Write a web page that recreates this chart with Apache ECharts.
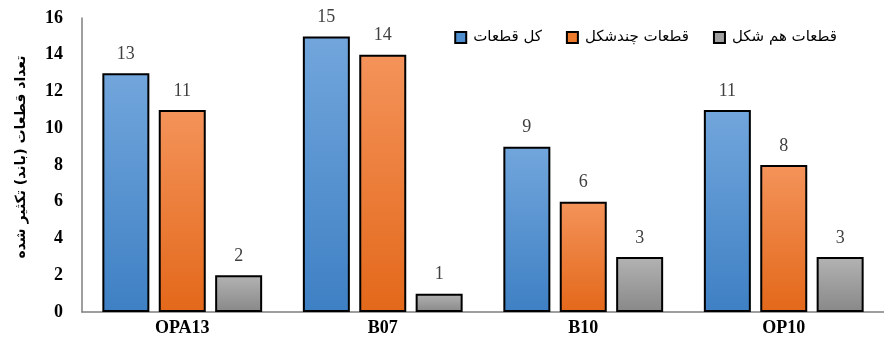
<!DOCTYPE html>
<html><head><meta charset="utf-8">
<script src="https://cdn.jsdelivr.net/npm/echarts@6/dist/echarts.min.js"></script>
<style>html,body{margin:0;padding:0;background:#fff}#c{width:884px;height:351px}</style>
</head><body><div id="c"></div>
<script>
const categories = ['OPA13', 'B07', 'B10', 'OP10'];
const totalBands = [13, 15, 9, 11];
const polyBands = [11, 14, 6, 8];
const monoBands = [2, 1, 3, 3];
const seriesNames = ['کل قطعات', 'قطعات چندشکل', 'قطعات هم شکل'];
const yAxisTitle = 'تعداد قطعات (باند) تکثیر شده';

function grad(a, b) {
  return new echarts.graphic.LinearGradient(0, 0, 0, 1, [{offset: 0, color: a}, {offset: 1, color: b}]);
}
const fills = [grad('#72a6dc', '#3e80c4'), grad('#f4935a', '#e3681a'), grad('#b3b3b3', '#888888')];
const legendColors = ['#4f8fd0', '#ee7a2c', '#a0a0a0'];
const dataSets = [totalBands, polyBands, monoBands];

const chart = echarts.init(document.getElementById('c'));
chart.setOption({
  animation: false,
  grid: {left: 82, right: -9, top: 18, bottom: 39, containLabel: false},
  legend: {
    top: 25, right: 42,
    itemWidth: 11, itemHeight: 11, itemGap: 24,
    textStyle: {fontFamily: 'DejaVu Sans', fontSize: 15, color: '#000', padding: [0, 0, 0, 2]},
    data: seriesNames.map((n, i) => ({name: n, icon: 'rect', itemStyle: {color: legendColors[i], borderColor: '#000', borderWidth: 2}}))
  },
  xAxis: {
    type: 'category', data: categories,
    axisLine: {lineStyle: {color: '#7f7f7f', width: 1.5}},
    axisTick: {show: false},
    axisLabel: {fontFamily: 'Liberation Serif', fontWeight: 'bold', fontSize: 18, color: '#000', margin: 7}
  },
  yAxis: {
    type: 'value', min: 0, max: 16, interval: 2,
    name: yAxisTitle, nameLocation: 'middle', nameGap: 54, nameRotate: 90,
    nameTextStyle: {fontFamily: 'DejaVu Sans', fontWeight: 'bold', fontSize: 14, color: '#000', padding: [0, 0, 0, 16]},
    axisLine: {show: true, lineStyle: {color: '#7f7f7f', width: 1.5}},
    axisTick: {show: false},
    splitLine: {show: false},
    axisLabel: {fontFamily: 'Liberation Serif', fontWeight: 'bold', fontSize: 18, color: '#000', margin: 19}
  },
  series: dataSets.map((d, i) => ({
    name: seriesNames[i], type: 'bar', data: d,
    barWidth: 47, barGap: '20%',
    itemStyle: {color: fills[i], borderColor: '#000', borderWidth: 2},
    label: {show: true, position: 'top', distance: 10, fontFamily: 'Liberation Serif', fontSize: 18, color: '#404040'}
  }))
});
</script></body></html>
